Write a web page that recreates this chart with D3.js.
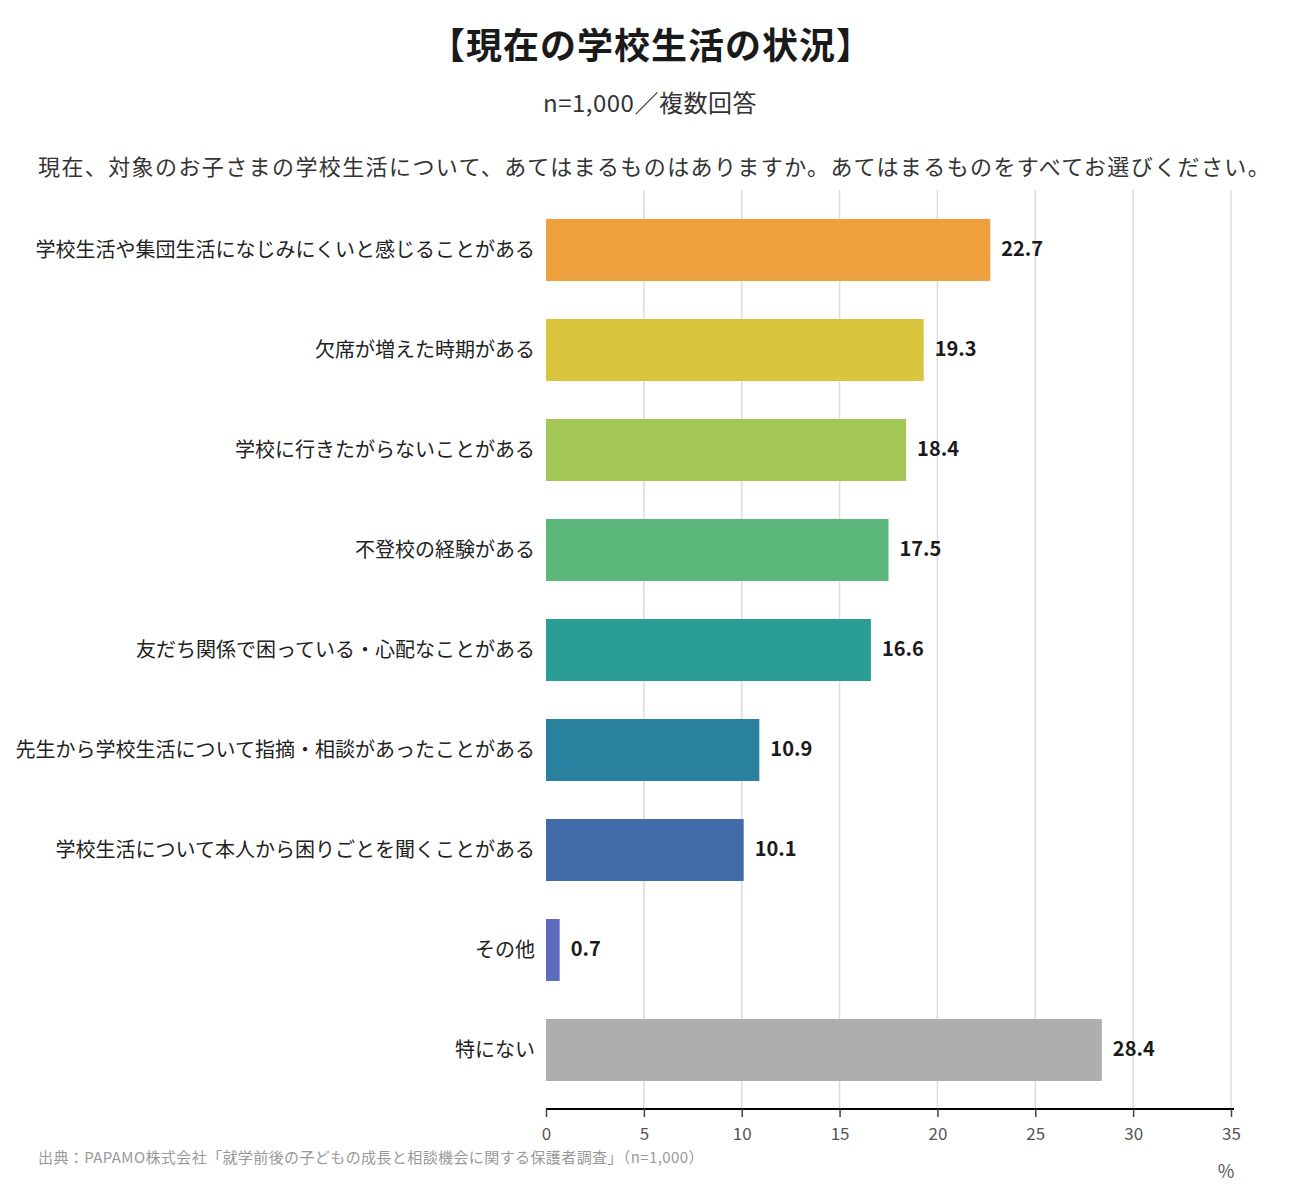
<!DOCTYPE html>
<html><head><meta charset="utf-8">
<script src="https://cdn.jsdelivr.net/npm/d3@7"></script>
<style>
body{margin:0;background:#fff;}
svg{display:block;font-family:"Noto Sans CJK JP","Noto Sans",sans-serif;}
</style></head><body>
<svg id="c" width="1300" height="1200"></svg>
<script>
const categories = [
  "学校生活や集団生活になじみにくいと感じることがある",
  "欠席が増えた時期がある",
  "学校に行きたがらないことがある",
  "不登校の経験がある",
  "友だち関係で困っている・心配なことがある",
  "先生から学校生活について指摘・相談があったことがある",
  "学校生活について本人から困りごとを聞くことがある",
  "その他",
  "特にない"
];
const values = [22.7, 19.3, 18.4, 17.5, 16.6, 10.9, 10.1, 0.7, 28.4];
const colors = ["#EDA03B","#DAC53F","#A3C757","#5BB87A","#2A9E94","#2A809F","#426BAA","#5E6BBF","#AEAEAE"];
const ticks = [0,5,10,15,20,25,30,35];
const title = "【現在の学校生活の状況】";
const subtitle = "n=1,000／複数回答";
const question = "現在、対象のお子さまの学校生活について、あてはまるものはありますか。あてはまるものをすべてお選びください。";
const source = "出典：PAPAMO株式会社「就学前後の子どもの成長と相談機会に関する保護者調査」（n=1,000）";

const svg = d3.select("#c");
const x = d3.scaleLinear().domain([0,35]).range([546,1231]);
const y = d3.scaleBand().domain(categories).range([200,1100]).paddingInner(0.38).paddingOuter(0.19);
const gridTop = 190, axisY = 1109;

svg.append("text").attr("x",651).attr("y",59).attr("text-anchor","middle")
  .attr("font-size",36).attr("letter-spacing",1).attr("font-weight",700).attr("fill","#1a1a1a").text(title);
svg.append("text").attr("x",650).attr("y",112).attr("text-anchor","middle")
  .attr("font-size",24).attr("letter-spacing",0.5).attr("fill","#333").text(subtitle);
svg.append("text").attr("x",38).attr("y",175)
  .attr("font-size",22).attr("letter-spacing",1.4).attr("fill","#333").text(question);

svg.append("g").selectAll("line").data(ticks.filter(t=>t>0)).join("line")
  .attr("x1",d=>x(d)).attr("x2",d=>x(d)).attr("y1",gridTop).attr("y2",axisY)
  .attr("stroke","#dcdcdc").attr("stroke-width",1.5);

svg.append("g").selectAll("rect").data(values).join("rect")
  .attr("x",x(0)).attr("y",(d,i)=>y(categories[i]))
  .attr("width",d=>x(d)-x(0)).attr("height",y.bandwidth())
  .attr("fill",(d,i)=>colors[i]);

svg.append("g").selectAll("text").data(values).join("text")
  .attr("x",d=>x(d)+11).attr("y",(d,i)=>y(categories[i])+y.bandwidth()/2)
  .attr("dy","0.3em").attr("font-size",20).attr("font-weight",700).attr("fill","#1a1a1a")
  .text(d=>d.toFixed(1));

svg.append("g").selectAll("text").data(categories).join("text")
  .attr("x",535).attr("y",d=>y(d)+y.bandwidth()/2).attr("dy","0.35em")
  .attr("text-anchor","end").attr("font-size",20).attr("fill","#222").text(d=>d);

const ax = svg.append("g").attr("transform",`translate(0,${axisY})`)
  .call(d3.axisBottom(x).tickValues(ticks).tickSize(8).tickPadding(11).tickSizeOuter(0));
ax.select(".domain").attr("stroke","#000").attr("stroke-width",2.2)
  .attr("d",`M${x(0)},0H${x(35)+3}`);
ax.selectAll(".tick line").attr("stroke","#444").attr("stroke-width",1.5);
ax.selectAll(".tick text").attr("font-size",17).attr("fill","#555")
  .attr("font-family","\"Noto Sans CJK JP\",sans-serif");

svg.append("text").attr("x",1226).attr("y",1178).attr("text-anchor","middle")
  .attr("font-size",18).attr("fill","#555").text("%");
svg.append("text").attr("x",38).attr("y",1163)
  .attr("font-size",15).attr("letter-spacing",0.4).attr("fill","#999").text(source);
</script>
</body></html>
